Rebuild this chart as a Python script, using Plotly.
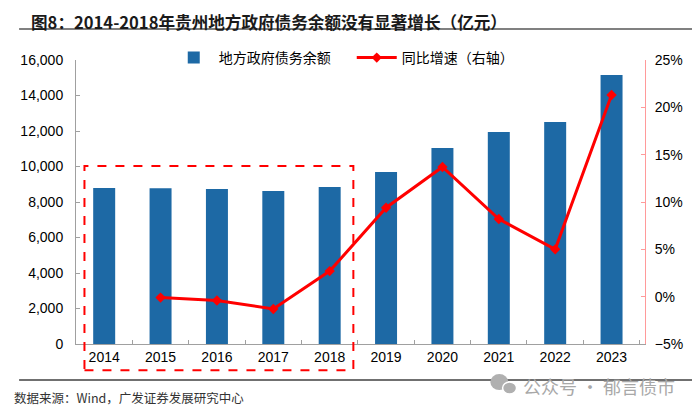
import plotly.graph_objects as go

years = ["2014", "2015", "2016", "2017", "2018", "2019", "2020", "2021", "2022", "2023"]
debt_balance = [8790, 8770, 8730, 8620, 8850, 9690, 11040, 11940, 12510, 15150]
growth_years = ["2015", "2016", "2017", "2018", "2019", "2020", "2021", "2022", "2023"]
growth_rate = [-0.001, -0.004, -0.013, 0.027, 0.094, 0.137, 0.082, 0.050, 0.213]

bar_name = "地方政府债务余额"
line_name = "同比增速（右轴）"
title_text = "图8：2014-2018年贵州地方政府债务余额没有显著增长（亿元）"
source_text = "数据来源：Wind，广发证券发展研究中心"
watermark_text = "公众号 · 郁言债市"

CJK = "Noto Sans CJK SC"
LAT = "Liberation Sans, Arial"

fig = go.Figure()
fig.add_trace(go.Bar(
    x=years, y=debt_balance, name=bar_name,
    marker=dict(color="#1D69A5", line=dict(width=0)),
    width=0.39, yaxis="y"))
fig.add_trace(go.Scatter(
    x=growth_years, y=growth_rate, name=line_name, mode="lines+markers",
    line=dict(color="#FF0000", width=3),
    marker=dict(symbol="diamond", size=8, color="#FF0000"),
    yaxis="y2"))

fig.update_layout(
    width=692, height=405,
    margin=dict(l=58, r=55, t=52, b=69),
    paper_bgcolor="white", plot_bgcolor="white",
    font=dict(family=LAT, size=14, color="#000000"),
    showlegend=True,
    legend=dict(orientation="h", x=0.163, y=1.007, xanchor="left", yanchor="middle",
                font=dict(family=CJK, size=14, color="#000"),
                itemwidth=40, entrywidth=128, tracegroupgap=0,
                bgcolor="rgba(0,0,0,0)"),
    xaxis=dict(type="category", showline=True, linecolor="#A0A0A0", linewidth=1,
               ticks="inside", tickson="boundaries", ticklen=4, tickcolor="#A0A0A0",
               showgrid=False, tickfont=dict(family=LAT, size=14)),
    yaxis=dict(range=[0, 16000], dtick=2000, tickformat=",d", showgrid=False,
               showline=True, linecolor="#A0A0A0", linewidth=1,
               ticks="inside", ticklen=4, tickcolor="#A0A0A0", ticklabelstandoff=9,
               tickfont=dict(family=LAT, size=14), zeroline=False),
    yaxis2=dict(range=[-0.05, 0.25], dtick=0.05, tickformat=".0%", overlaying="y",
                side="right", showgrid=False, showline=True, linecolor="#FF9A9A",
                linewidth=1, ticks="inside", ticklen=4, tickcolor="#FF9A9A",
                ticklabelstandoff=6,
                tickfont=dict(family=LAT, size=14), zeroline=False),
)

# dashed highlight box around 2014-2018
fig.add_shape(type="rect", xref="x", yref="paper", x0=-0.35, x1=4.42,
              y0=-0.092, y1=10030 / 16000,
              line=dict(color="#FF0000", width=2, dash="dash"))

# title and rules
fig.add_annotation(text="<b>" + title_text + "</b>", xref="paper", yref="paper",
                   x=-0.082, y=1.183, xanchor="left", yanchor="top", showarrow=False,
                   font=dict(family=CJK, size=16.6, color="#1a1a1a"))
fig.add_shape(type="line", xref="paper", yref="paper", x0=-0.1, x1=1.097,
              y0=1.109, y1=1.109, line=dict(color="#808080", width=2))
fig.add_shape(type="line", xref="paper", yref="paper", x0=-0.1, x1=1.083,
              y0=-0.127, y1=-0.127, line=dict(color="#404040", width=1.5))
fig.add_annotation(text=source_text, xref="paper", yref="paper",
                   x=-0.112, y=-0.19, xanchor="left", yanchor="middle", showarrow=False,
                   font=dict(family=CJK, size=12.5, color="#333"))

# watermark (icon + text)
fig.add_shape(type="circle", xref="paper", yref="paper", xsizemode="pixel",
              ysizemode="pixel", xanchor=0.744, yanchor=-0.134,
              x0=-9, x1=9, y0=-8, y1=8, fillcolor="#b0b0b0", line=dict(width=0))
fig.add_shape(type="circle", xref="paper", yref="paper", xsizemode="pixel",
              ysizemode="pixel", xanchor=0.762, yanchor=-0.155,
              x0=-7, x1=7, y0=-6, y1=6, fillcolor="#b0b0b0",
              line=dict(color="white", width=1.5))
fig.add_annotation(text=watermark_text, xref="paper", yref="paper",
                   x=1.056, y=-0.148, xanchor="right", yanchor="middle", showarrow=False,
                   font=dict(family=CJK, size=18, color="#a8a8a8"))

fig.write_html("out.html")
